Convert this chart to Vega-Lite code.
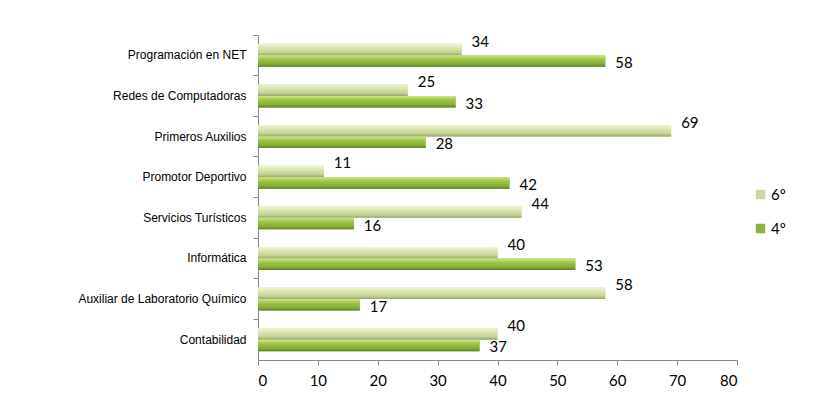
{
  "$schema": "https://vega.github.io/schema/vega-lite/v6.json",
  "autosize": "none",
  "width": 479,
  "height": 325,
  "padding": {"left": 258, "top": 35, "right": 90, "bottom": 46},
  "background": "white",
  "config": {"view": {"stroke": null}},
  "data": {
    "values": [
      {"curso": "Programación en NET", "serie": "6º", "valor": 34},
      {"curso": "Programación en NET", "serie": "4º", "valor": 58},
      {"curso": "Redes de Computadoras", "serie": "6º", "valor": 25},
      {"curso": "Redes de Computadoras", "serie": "4º", "valor": 33},
      {"curso": "Primeros Auxilios", "serie": "6º", "valor": 69},
      {"curso": "Primeros Auxilios", "serie": "4º", "valor": 28},
      {"curso": "Promotor Deportivo", "serie": "6º", "valor": 11},
      {"curso": "Promotor Deportivo", "serie": "4º", "valor": 42},
      {"curso": "Servicios Turísticos", "serie": "6º", "valor": 44},
      {"curso": "Servicios Turísticos", "serie": "4º", "valor": 16},
      {"curso": "Informática", "serie": "6º", "valor": 40},
      {"curso": "Informática", "serie": "4º", "valor": 53},
      {"curso": "Auxiliar de Laboratorio Químico", "serie": "6º", "valor": 58},
      {"curso": "Auxiliar de Laboratorio Químico", "serie": "4º", "valor": 17},
      {"curso": "Contabilidad", "serie": "6º", "valor": 40},
      {"curso": "Contabilidad", "serie": "4º", "valor": 37}
    ]
  },
  "encoding": {
    "y": {
      "field": "curso",
      "type": "nominal",
      "sort": null,
      "scale": {"paddingInner": 0, "paddingOuter": 0},
      "axis": {
        "title": null,
        "bandPosition": 0,
        "domainColor": "#888888",
        "tickColor": "#888888",
        "tickSize": 5,
        "labelPadding": 7,
        "labelFont": "Liberation Sans",
        "labelFontSize": 12,
        "labelColor": "#000000",
        "labelLimit": 300
      }
    },
    "yOffset": {
      "field": "serie",
      "type": "nominal",
      "sort": ["6º", "4º"],
      "scale": {"paddingInner": 0, "paddingOuter": 0.76}
    },
    "x": {
      "field": "valor",
      "type": "quantitative",
      "scale": {"domain": [0, 80], "nice": false},
      "axis": {
        "title": null,
        "grid": false,
        "values": [0, 10, 20, 30, 40, 50, 60, 70, 80],
        "domainColor": "#888888",
        "tickColor": "#888888",
        "tickSize": 5,
        "labelPadding": 8,
        "labelFont": "Lato",
        "labelFontSize": 15,
        "labelColor": "#000000"
      }
    }
  },
  "layer": [
    {
      "mark": {"type": "bar"},
      "encoding": {
        "color": {
          "field": "serie",
          "type": "nominal",
          "sort": ["6º", "4º"],
          "scale": {"domain": ["6º", "4º"], "range": ["#c9d99f", "#8cb43c"]},
          "legend": {
            "title": null,
            "orient": "none",
            "legendX": 495,
            "legendY": 152,
            "symbolType": "square",
            "symbolSize": 90,
            "symbolStrokeWidth": 0,
            "labelFont": "Lato",
            "labelFontSize": 15,
            "labelColor": "#000000",
            "labelOffset": 3,
            "rowPadding": 18
          }
        }
      }
    },
    {
      "mark": {"type": "bar"},
      "encoding": {
        "fill": {
          "condition": {
            "test": "datum.serie === '6º'",
            "value": {
              "gradient": "linear", "x1": 0, "y1": 0, "x2": 0, "y2": 1,
              "stops": [
                {"offset": 0, "color": "#eef6d2"},
                {"offset": 0.35, "color": "#d9e6ae"},
                {"offset": 0.75, "color": "#c2d296"},
                {"offset": 1, "color": "#98a46c"}
              ]
            }
          },
          "value": {
            "gradient": "linear", "x1": 0, "y1": 0, "x2": 0, "y2": 1,
            "stops": [
              {"offset": 0, "color": "#cfe78a"},
              {"offset": 0.35, "color": "#9dc448"},
              {"offset": 0.75, "color": "#86ad38"},
              {"offset": 1, "color": "#5f7f24"}
            ]
          }
        }
      }
    },
    {
      "transform": [{"filter": "datum.serie === '6º'"}],
      "mark": {"type": "text", "align": "left", "baseline": "middle", "dx": 10, "dy": -8, "font": "Lato", "fontSize": 15, "color": "#000000"},
      "encoding": {"text": {"field": "valor", "type": "quantitative"}}
    },
    {
      "transform": [{"filter": "datum.serie === '4º'"}],
      "mark": {"type": "text", "align": "left", "baseline": "middle", "dx": 10, "dy": 2, "font": "Lato", "fontSize": 15, "color": "#000000"},
      "encoding": {"text": {"field": "valor", "type": "quantitative"}}
    }
  ]
}
